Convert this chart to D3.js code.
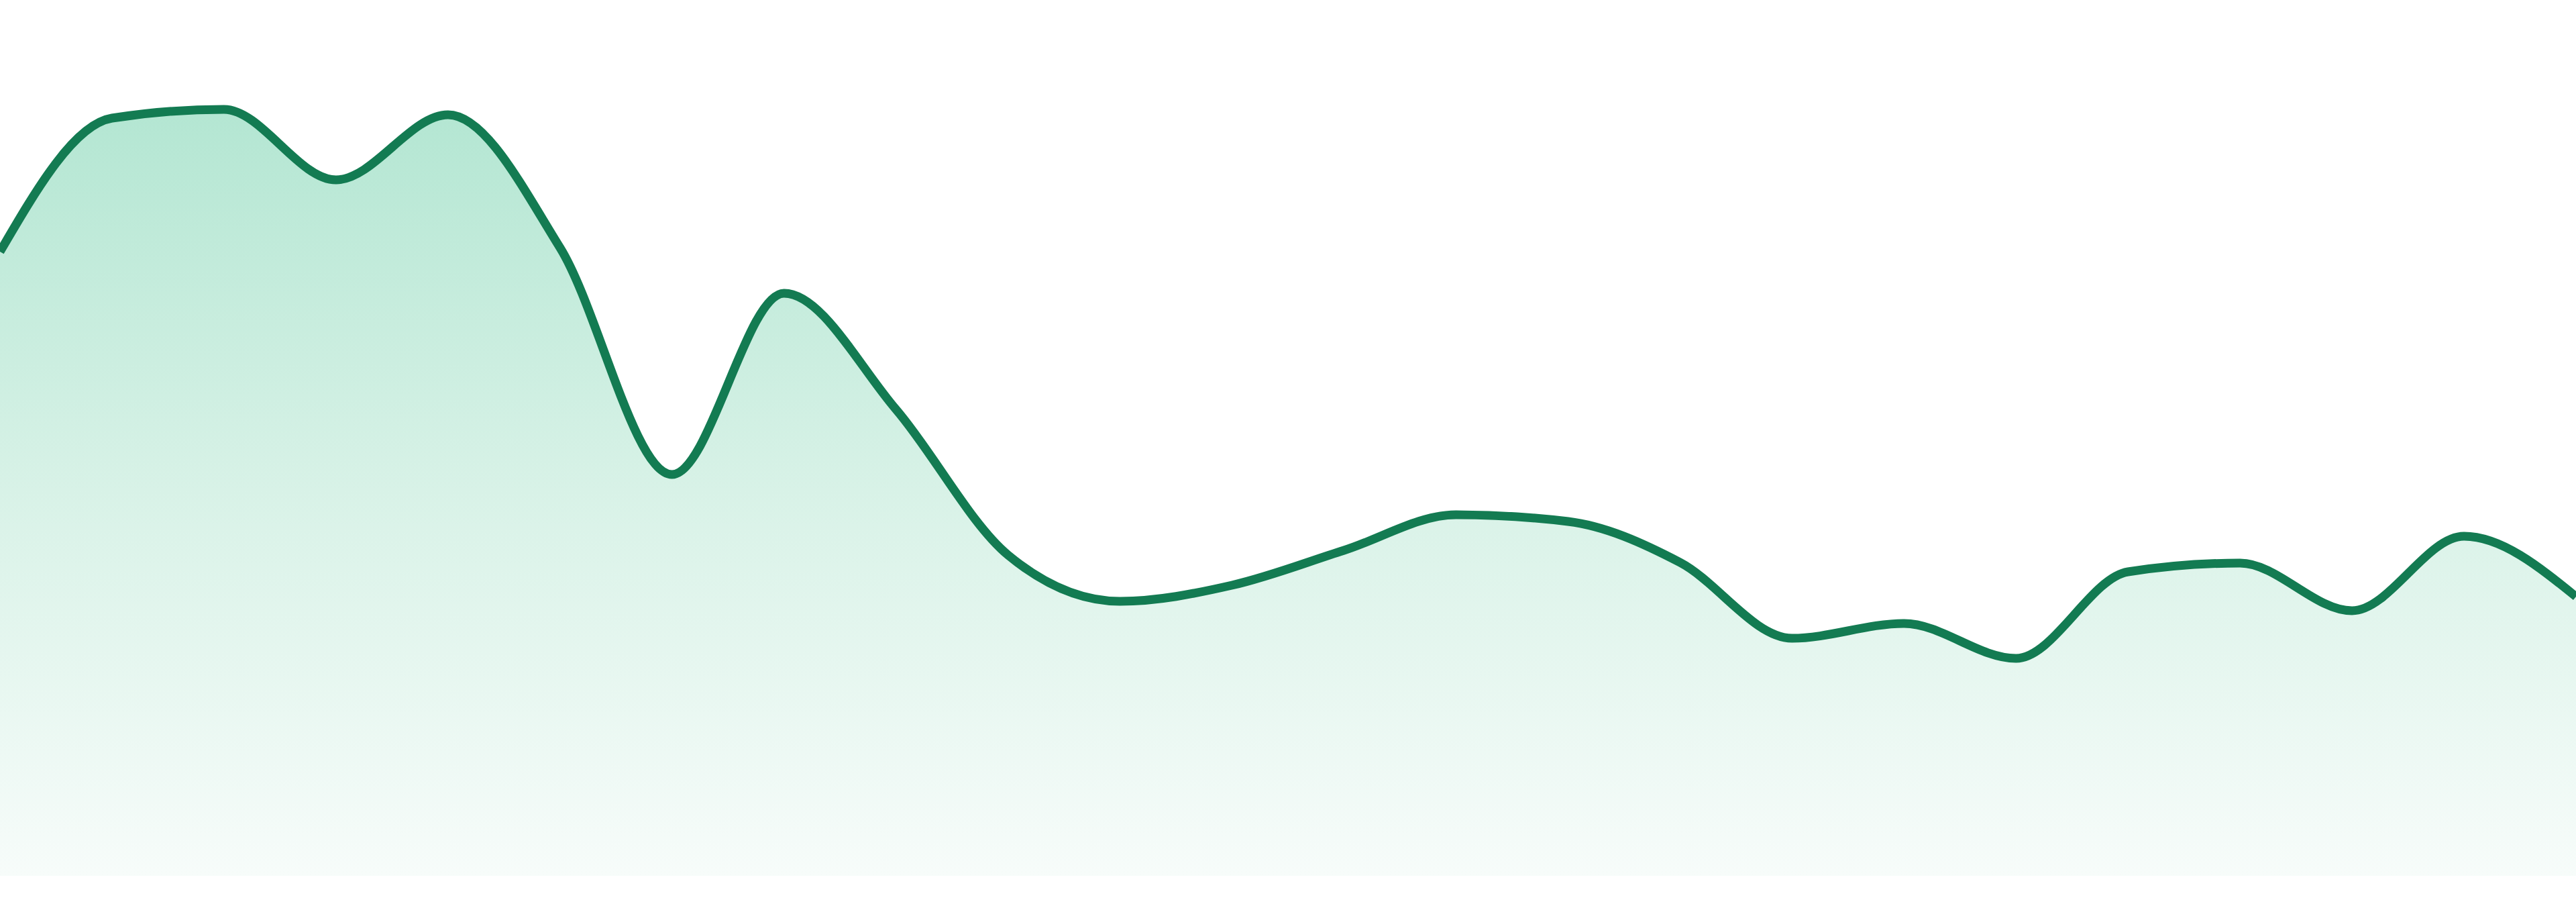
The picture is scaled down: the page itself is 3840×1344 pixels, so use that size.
<!DOCTYPE html>
<html>
<head>
<meta charset="utf-8">
<script src="https://cdn.jsdelivr.net/npm/d3@7"></script>
<style>
  html, body { margin: 0; padding: 0; background: #ffffff; }
  svg { display: block; }
</style>
</head>
<body>
<svg id="chart" width="3840" height="1344"></svg>
<script>
// Data (one value per period)
const categories = d3.range(24).map(i => "P" + (i + 1));
const values = [930, 1129, 1142, 1037, 1134, 936, 598, 868, 695, 478, 409, 433,
                485, 538, 528, 467, 354, 376, 324, 453, 466, 395, 506, 416];
const yDomain = [0, 1150];

const W = 3840, H = 1344;
const plotBottom = 1305, plotTop = 155;

const svg = d3.select("#chart");

const x = d3.scalePoint().domain(categories).range([0, W]);
const y = d3.scaleLinear().domain(yDomain).range([plotBottom, plotTop]);

const data = categories.map((c, i) => ({ c, v: values[i] }));

const defs = svg.append("defs");
const grad = defs.append("linearGradient")
  .attr("id", "fillGrad")
  .attr("gradientUnits", "userSpaceOnUse")
  .attr("x1", 0).attr("x2", 0)
  .attr("y1", plotTop).attr("y2", plotBottom);
grad.append("stop").attr("offset", "0%").attr("stop-color", "#b3e6d2");
grad.append("stop").attr("offset", "50%").attr("stop-color", "#d8f2e7");
grad.append("stop").attr("offset", "100%").attr("stop-color", "#f7fcfa");

const area = d3.area()
  .x(d => x(d.c))
  .y0(plotBottom)
  .y1(d => y(d.v))
  .curve(d3.curveMonotoneX);

const line = d3.line()
  .x(d => x(d.c))
  .y(d => y(d.v))
  .curve(d3.curveMonotoneX);

svg.append("path")
  .datum(data)
  .attr("d", area)
  .attr("fill", "url(#fillGrad)");

svg.append("path")
  .datum(data)
  .attr("d", line)
  .attr("fill", "none")
  .attr("stroke", "#137b52")
  .attr("stroke-width", 13)
  .attr("stroke-linejoin", "round");
</script>
</body>
</html>
